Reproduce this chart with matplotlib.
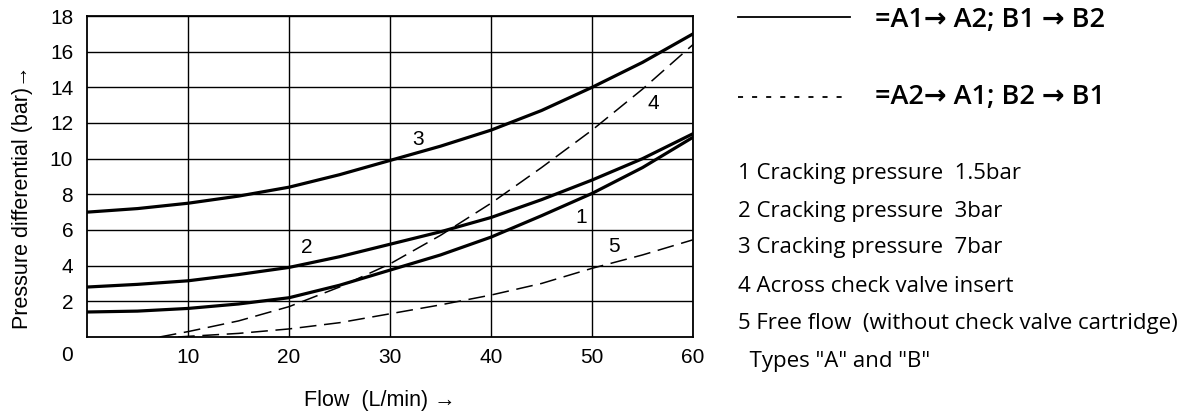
import matplotlib
matplotlib.use("Agg")
import matplotlib.pyplot as plt
from matplotlib.lines import Line2D

# Kennlinien (Fluss L/min -> Druckdifferenz bar)
flow_solid = [0, 5, 10, 15, 20, 25, 30, 35, 40, 45, 50, 55, 60]
curve_1 = [1.4, 1.45, 1.6, 1.85, 2.2, 2.9, 3.75, 4.6, 5.6, 6.8, 8.05, 9.5, 11.2]
curve_2 = [2.8, 2.95, 3.15, 3.5, 3.9, 4.5, 5.2, 5.9, 6.7, 7.7, 8.8, 10.0, 11.4]
curve_3 = [7.0, 7.2, 7.5, 7.9, 8.4, 9.1, 9.9, 10.7, 11.6, 12.7, 14.0, 15.4, 17.0]

flow_4 = [7.2, 10, 15, 20, 25, 30, 35, 40, 45, 50, 55, 60]
curve_4 = [0.0, 0.3, 0.9, 1.7, 2.8, 4.1, 5.7, 7.5, 9.5, 11.6, 13.9, 16.4]

flow_5 = [9, 15, 20, 25, 30, 35, 40, 45, 50, 55, 60]
curve_5 = [0.0, 0.2, 0.45, 0.8, 1.3, 1.8, 2.35, 3.0, 3.85, 4.6, 5.45]

curve_labels = ["1", "2", "3", "4", "5"]
label_pos = [(48.9, 6.7), (21.8, 5.0), (32.8, 11.1), (56.1, 13.1), (52.2, 5.05)]

x_ticks = [10, 20, 30, 40, 50, 60]
y_ticks = [2, 4, 6, 8, 10, 12, 14, 16, 18]

legend_items = [
    "1 Cracking pressure  1.5bar",
    "2 Cracking pressure  3bar",
    "3 Cracking pressure  7bar",
    "4 Across check valve insert",
    "5 Free flow  (without check valve cartridge)",
    "  Types \"A\" and \"B\"",
]

plt.rcParams["font.family"] = ["Liberation Sans", "DejaVu Sans"]
fs = 15

fig = plt.figure(figsize=(11.92, 4.16), dpi=100)
ax = fig.add_axes([0.073, 0.19, 0.5084, 0.7715])

ax.plot(flow_solid, curve_1, color="black", lw=2.3)
ax.plot(flow_solid, curve_2, color="black", lw=2.3)
ax.plot(flow_solid, curve_3, color="black", lw=2.3)
ax.plot(flow_4, curve_4, color="black", lw=1.1, dashes=(11, 5))
ax.plot(flow_5, curve_5, color="black", lw=1.1, dashes=(11, 5))

for lab, (x, y) in zip(curve_labels, label_pos):
    ax.text(x, y, lab, fontsize=fs, ha="center", va="center")

ax.set_xlim(0, 60)
ax.set_ylim(0, 18)
ax.set_xticks(x_ticks)
ax.set_yticks(y_ticks)
ax.grid(True, color="black", lw=1.0)
ax.tick_params(length=0, labelsize=fs)
ax.tick_params(axis="x", pad=8)
ax.tick_params(axis="y", pad=10)
for s in ax.spines.values():
    s.set_linewidth(1.3)

# die "0" sitzt in der Zeile der x-Beschriftung
ax.annotate("0", xy=(0, 0), xytext=(-14, -19), textcoords="offset pixels",
            ha="right", va="center", fontsize=fs)

ax.set_xlabel("Flow  (L/min) \u2192", fontsize=15.5)
ax.set_ylabel("Pressure differential (bar)\u2192", fontsize=15.5)
ax.xaxis.set_label_coords(0.483, -0.165)
ax.yaxis.set_label_coords(-0.089, 0.436)

# Legende rechts
fig.add_artist(Line2D([0.619, 0.713], [0.959, 0.959], color="black", lw=1.3,
                      transform=fig.transFigure))
fig.add_artist(Line2D([0.619, 0.713], [0.767, 0.767], color="black", lw=1.3,
                      dashes=(2.8, 5), transform=fig.transFigure))
rfont = ["Open Sans", "DejaVu Sans"]
fig.text(0.734, 0.952, "=A1\u2192 A2; B1 \u2192 B2", fontsize=19.5, family=rfont,
         weight="semibold", va="center")
fig.text(0.734, 0.767, "=A2\u2192 A1; B2 \u2192 B1", fontsize=19.5, family=rfont,
         weight="semibold", va="center")

row_y = [173, 211, 248, 286, 323, 361]
for txt, py in zip(legend_items, row_y):
    fig.text(0.619, 1 - py / 416, txt, fontsize=16, family=rfont,
             weight="medium", va="center")

fig.savefig("out.png", dpi=100)
